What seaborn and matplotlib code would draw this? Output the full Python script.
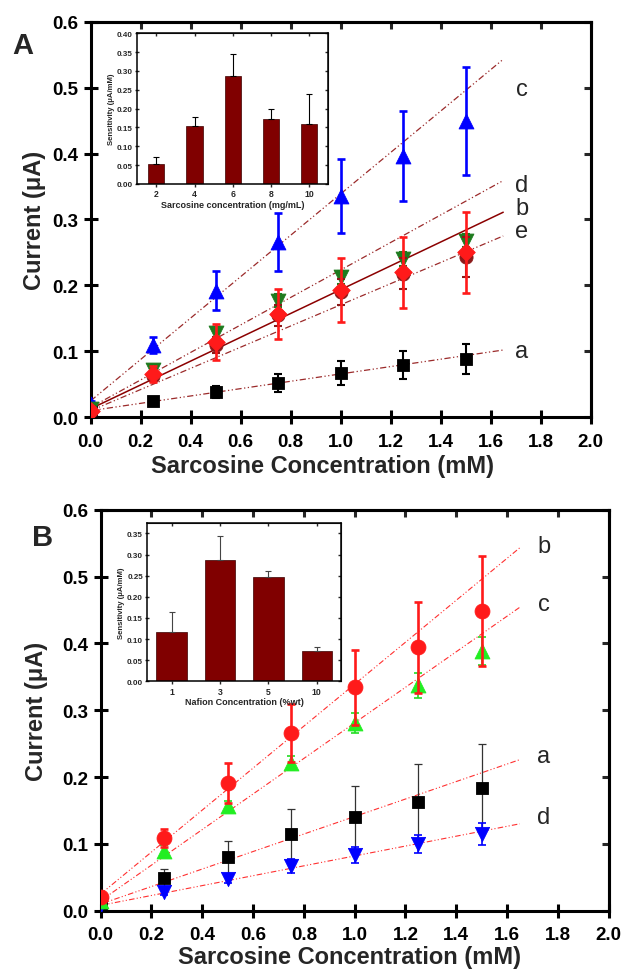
import numpy as np
import pandas as pd
import matplotlib
matplotlib.use("Agg")
import matplotlib.pyplot as plt
import seaborn as sns

# ---------------- data ----------------
conc = [0.0, 0.25, 0.5, 0.75, 1.0, 1.25, 1.5]

# Panel A (series a-e)
A_a = [0.010, 0.024, 0.038, 0.052, 0.067, 0.079, 0.088]
A_a_err = [0.003, 0.004, 0.009, 0.014, 0.018, 0.021, 0.023]
A_b = [0.010, 0.065, 0.114, 0.157, 0.193, 0.220, 0.250]
A_b_err = [0.004, 0.012, 0.027, 0.038, 0.048, 0.054, 0.062]
A_c = [0.020, 0.110, 0.192, 0.266, 0.336, 0.396, 0.449]
A_c_err = [0.005, 0.012, 0.030, 0.044, 0.056, 0.068, 0.082]
A_d = [0.012, 0.072, 0.128, 0.177, 0.212, 0.240, 0.268]
A_d_err = [0.003, 0.008, 0.009, 0.010, 0.010, 0.010, 0.010]
A_e = [0.010, 0.063, 0.110, 0.155, 0.190, 0.218, 0.243]
A_e_err = [0.003, 0.008, 0.012, 0.016, 0.020, 0.024, 0.030]

# fitted lines (value at x=0 and x=1.65)
fit_x = [0.0, 1.65]
A_fit_a = [0.010, 0.102]
A_fit_b = [0.013, 0.311]
A_fit_c = [0.025, 0.543]
A_fit_d = [0.015, 0.359]
A_fit_e = [0.010, 0.275]

# Panel B (series a-d)
B_a = [0.010, 0.049, 0.080, 0.115, 0.140, 0.163, 0.184]
B_a_err = [0.003, 0.014, 0.025, 0.037, 0.047, 0.056, 0.065]
B_b = [0.020, 0.109, 0.191, 0.266, 0.334, 0.394, 0.448]
B_b_err = [0.004, 0.013, 0.030, 0.044, 0.056, 0.068, 0.082]
B_c = [0.015, 0.090, 0.156, 0.221, 0.281, 0.337, 0.389]
B_c_err = [0.003, 0.008, 0.008, 0.010, 0.015, 0.018, 0.021]
B_d = [0.008, 0.028, 0.048, 0.067, 0.083, 0.100, 0.115]
B_d_err = [0.003, 0.005, 0.006, 0.010, 0.012, 0.014, 0.016]

B_fit_a = [0.010, 0.226]
B_fit_b = [0.025, 0.543]
B_fit_c = [0.015, 0.454]
B_fit_d = [0.008, 0.130]

# insets
insA_cats = ["2", "4", "6", "8", "10"]
insA_vals = [0.053, 0.153, 0.285, 0.171, 0.158]
insA_err = [0.019, 0.024, 0.059, 0.027, 0.081]
insB_cats = ["1", "3", "5", "10"]
insB_vals = [0.116, 0.287, 0.248, 0.071]
insB_err = [0.049, 0.057, 0.013, 0.011]

xticks = [0.0, 0.2, 0.4, 0.6, 0.8, 1.0, 1.2, 1.4, 1.6, 1.8, 2.0]
yticks = [0.0, 0.1, 0.2, 0.3, 0.4, 0.5, 0.6]

# ---------------- style ----------------
sns.set_style("ticks")
plt.rcParams["font.family"] = ["Liberation Sans", "DejaVu Sans"]
plt.rcParams["font.weight"] = "bold"
plt.rcParams["axes.labelweight"] = "bold"

fig = plt.figure(figsize=(6.23, 9.70), dpi=100)
axA = fig.add_axes([0.1456, 0.5688, 0.8026, 0.4078])
axB = fig.add_axes([0.1616, 0.0601, 0.8154, 0.4134])

DASH = (0, (5, 2, 1, 2, 1, 2))


def series(ax, y, err, color, marker, s, ecolor, elw, z):
    ax.errorbar(conc, y, yerr=err, fmt="none", ecolor=ecolor, elinewidth=elw,
                capsize=3, capthick=elw, zorder=z)
    sns.scatterplot(x=conc, y=y, ax=ax, color=color, marker=marker, s=s,
                    edgecolor=color, linewidth=0.6, zorder=z + 0.5, legend=False)


def fitline(ax, ys, color, ls, lw):
    sns.lineplot(x=fit_x, y=ys, ax=ax, color=color, linestyle=ls,
                 linewidth=lw, zorder=1.5)


def style_main(ax):
    ax.set_xlim(0, 2)
    ax.set_ylim(0, 0.6)
    ax.set_xticks(xticks)
    ax.set_yticks(yticks)
    ax.xaxis.set_major_formatter("{x:.1f}")
    ax.yaxis.set_major_formatter("{x:.1f}")
    for sp in ax.spines.values():
        sp.set_visible(True)
        sp.set_linewidth(2.2)
        sp.set_color("black")
    ax.tick_params(axis="both", direction="inout", length=9.5, width=2.2,
                   labelsize=13.5, colors="black")
    ax.tick_params(axis="x", pad=6.5)
    ax.tick_params(axis="y", pad=4)
    for lab in ax.get_xticklabels() + ax.get_yticklabels():
        lab.set_fontweight("bold")
    top = ax.secondary_xaxis("top")
    top.set_xticks(xticks)
    top.tick_params(direction="in", length=5, width=2.2, labeltop=False)
    top.spines["top"].set_linewidth(2.2)
    right = ax.secondary_yaxis("right")
    right.set_yticks(yticks)
    right.tick_params(direction="in", length=5, width=2.2, labelright=False)
    right.spines["right"].set_linewidth(2.2)
    ax.set_xlabel("Sarcosine Concentration (mM)", fontsize=17, fontweight="bold")
    ax.set_ylabel("Current (\u03bcA)", fontsize=17, fontweight="bold")


def style_inset(ax, cats, ymax, yt, xlabel):
    ax.set_ylim(0, ymax)
    ax.set_xlim(-0.5, len(cats) - 0.5)
    ax.set_yticks(yt)
    ax.yaxis.set_major_formatter("{x:.2f}")
    for sp in ax.spines.values():
        sp.set_visible(True)
        sp.set_linewidth(1.1)
        sp.set_color("black")
    ax.tick_params(axis="y", direction="inout", length=3.5, width=1.0,
                   labelsize=5.8, pad=1.5)
    ax.tick_params(axis="x", direction="out", length=2.5, width=1.0,
                   labelsize=6.2, pad=1.5)
    for lab in ax.get_xticklabels() + ax.get_yticklabels():
        lab.set_fontweight("bold")
    top = ax.secondary_xaxis("top")
    top.set_xticks(range(len(cats)))
    top.tick_params(direction="in", length=2.5, width=1.0, labeltop=False)
    right = ax.secondary_yaxis("right")
    right.set_yticks(yt)
    right.tick_params(direction="in", length=2.5, width=1.0, labelright=False)
    ax.set_xlabel(xlabel, fontsize=6.5, fontweight="bold", labelpad=1)
    ax.set_ylabel("Sensitivity (\u03bcA/mM)", fontsize=5.6, fontweight="bold", labelpad=1)


# ---------------- panel A ----------------
lc = "#9B2A2A"
fitline(axA, A_fit_a, lc, DASH, 0.9)
fitline(axA, A_fit_c, lc, DASH, 0.9)
fitline(axA, A_fit_d, lc, DASH, 0.9)
fitline(axA, A_fit_e, lc, DASH, 0.9)
fitline(axA, A_fit_b, "#8B0000", "-", 1.1)

series(axA, A_a, A_a_err, "black", "s", 80, "black", 1.5, 3)
series(axA, A_c, A_c_err, "#0000FF", "^", 115, "#0000FF", 1.9, 3)
series(axA, A_d, A_d_err, "#1E7B1E", "v", 115, "#1E7B1E", 1.5, 4)
series(axA, A_e, A_e_err, "#8B1A1A", "o", 90, "#8B1A1A", 1.5, 5)
series(axA, A_b, A_b_err, "#FF1A1A", "D", 80, "#FF1A1A", 1.9, 6)

style_main(axA)
axA.xaxis.set_label_coords(0.463, -0.093)
axA.yaxis.set_label_coords(-0.089, 0.5)

for lab, yv in zip(["c", "d", "b", "e", "a"], [0.498, 0.353, 0.318, 0.283, 0.101]):
    axA.text(1.724, yv, lab, fontsize=17, fontweight="normal", ha="center", va="center")
fig.text(23 / 623, 1 - 46 / 970, "A", fontsize=21, fontweight="bold", ha="center", va="center")

insA = axA.inset_axes([0.093, 0.59, 0.382, 0.381])
sns.barplot(x=insA_cats, y=insA_vals, ax=insA, color="#800000", width=0.42,
            edgecolor="#3a0000", linewidth=0.5, errorbar=None, saturation=1)
insA.errorbar(range(len(insA_cats)), insA_vals, yerr=[np.zeros(len(insA_vals)), insA_err],
              fmt="none", ecolor="black", elinewidth=0.8, capsize=2, capthick=0.8)
style_inset(insA, insA_cats, 0.40, np.arange(0, 0.401, 0.05), "Sarcosine concentration (mg/mL)")

# ---------------- panel B ----------------
lcB = "#FF3030"
fitline(axB, B_fit_a, lcB, DASH, 0.8)
fitline(axB, B_fit_b, lcB, DASH, 0.8)
fitline(axB, B_fit_c, lcB, DASH, 0.8)
fitline(axB, B_fit_d, lcB, DASH, 0.8)

series(axB, B_a, B_a_err, "black", "s", 80, "#333333", 0.9, 3)
series(axB, B_d, B_d_err, "#0000FF", "v", 105, "#0000FF", 1.2, 3)
series(axB, B_c, B_c_err, "#22EE22", "^", 115, "#22DD22", 1.2, 4)
series(axB, B_b, B_b_err, "#FF1A1A", "o", 115, "#FF1A1A", 1.9, 5)

style_main(axB)
axB.xaxis.set_label_coords(0.489, -0.086)
axB.yaxis.set_label_coords(-0.104, 0.5)

for lab, yv in zip(["b", "c", "a", "d"], [0.545, 0.459, 0.232, 0.140]):
    axB.text(1.744, yv, lab, fontsize=17, fontweight="normal", ha="center", va="center")
fig.text(43 / 623, 1 - 538 / 970, "B", fontsize=21, fontweight="bold", ha="center", va="center")

insB = axB.inset_axes([0.092, 0.572, 0.381, 0.395])
sns.barplot(x=insB_cats, y=insB_vals, ax=insB, color="#800000", width=0.63,
            edgecolor="#3a0000", linewidth=0.5, errorbar=None, saturation=1)
insB.errorbar(range(len(insB_cats)), insB_vals, yerr=[np.zeros(len(insB_vals)), insB_err],
              fmt="none", ecolor="#444444", elinewidth=0.8, capsize=2, capthick=0.8)
style_inset(insB, insB_cats, 0.375, np.arange(0, 0.351, 0.05), "Nafion Concentration (%wt)")

fig.savefig("out.png", dpi=100)
